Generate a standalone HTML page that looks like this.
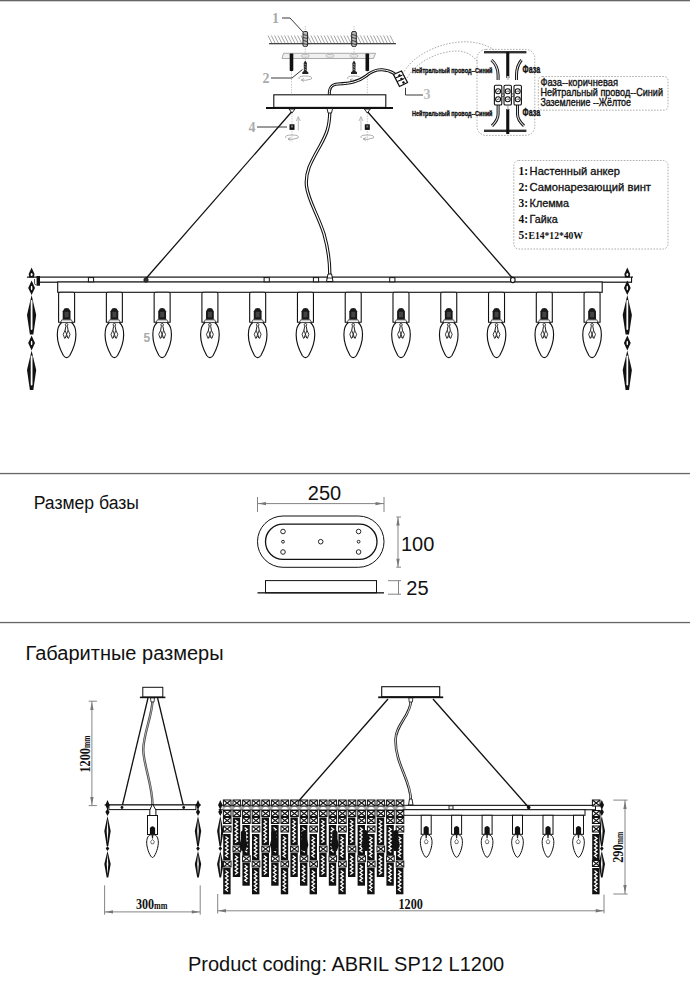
<!DOCTYPE html>
<html><head><meta charset="utf-8"><style>
html,body{margin:0;padding:0;background:#fff;width:690px;height:1000px;overflow:hidden}
svg{display:block}
text{font-family:"Liberation Sans", sans-serif}
.sf{font-family:"Liberation Serif", serif}
</style></head><body>
<svg width="690" height="1000" viewBox="0 0 690 1000">
<defs>
 <g id="bulb">
  <path d="M-8 1.5 Q-8 0 -6.5 0 L6.5 0 Q8 0 8 1.5 L8 30 L-8 30 Z" fill="#fff" stroke="#111" stroke-width="1.1"/>
  <path d="M-3.9 27.5 L-3.9 19 L-2.2 16.3 L0 15.8 L2.2 16.3 L3.9 19 L3.9 27.5 Z" fill="#1a1a1a"/>
  <path d="M-2 19.5 L2 19.5 L2 25 L-2 25 Z" fill="#444"/>
  <path d="M-4.8 27.5 L4.8 27.5 L6 30.3 L-6 30.3 Z" fill="#eee" stroke="#222" stroke-width="0.7"/>
  <path d="M-5 30.2 C-8.5 33 -9.3 38 -9.3 42.4 C-9.3 50 -5.5 59 -3.2 63.2 Q0 67.6 3.2 63.2 C5.5 59 9.3 50 9.3 42.4 C9.3 38 8.5 33 5 30.2" fill="none" stroke="#111" stroke-width="1.15"/>
  <circle cx="0" cy="32.5" r="1.3" fill="#fff" stroke="#222" stroke-width="0.9"/>
  <path d="M-0.8 34 L-1.5 38 M0.8 34 L1.5 38" stroke="#222" stroke-width="1"/>
  <path d="M-1.5 38 L-3.4 42 L-2 46 L0 44.3 L2 46 L3.4 42 L1.5 38 M-1.5 38 L1.5 46 M1.5 38 L-1.5 46" fill="none" stroke="#222" stroke-width="0.9"/>
 </g>
 <g id="crystal">
  <path d="M0 267.5 L-2.9 274 L-2.3 277.5 L2.3 277.5 L2.9 274 Z" fill="#111"/>
  <ellipse cx="0" cy="274.5" rx="1" ry="1.6" fill="#fff"/>
  <path d="M0 280.5 L-3.4 288 L0 295 L3.4 288 Z" fill="#111"/>
  <ellipse cx="0" cy="288" rx="0.8" ry="2.2" fill="#fff"/>
  <path d="M0 295 L-4.6 315 L-1.7 334.5 L1.7 334.5 L4.6 315 Z" fill="#111"/>
  <rect x="-0.9" y="300" width="1.8" height="30" rx="0.9" fill="#fff"/>
  <path d="M0 335.5 L-3.4 343 L0 350.5 L3.4 343 Z" fill="#111"/>
  <ellipse cx="0" cy="343" rx="0.8" ry="2.2" fill="#fff"/>
  <path d="M0 350.5 L-4.6 370 L-1.7 390 L1.7 390 L4.6 370 Z" fill="#111"/>
  <rect x="-0.9" y="355.5" width="1.8" height="30" rx="0.9" fill="#fff"/>
 </g>
 <g id="sbulb">
  <rect x="-5" y="0" width="10" height="19" fill="#fff" stroke="#111" stroke-width="1"/>
  <path d="M-2.6 19 L-2.6 12.5 Q0 9 2.6 12.5 L2.6 19 Z" fill="#111"/>
  <path d="M-1.8 19.3 C-5 20 -6 24 -5.8 28 C-5.4 34 -2 42 0 42 C2 42 5.4 34 5.8 28 C6 24 5 20 1.8 19.3 Z" fill="#fff" stroke="#111" stroke-width="1"/>
  <path d="M-0.8 19.5 L0.8 19.5 L0.6 23 L-0.6 23 Z" fill="#222"/>
  <path d="M-1.8 26 L0 24 L1.8 26 L1.1 28.3 L-1.1 28.3 Z" fill="none" stroke="#333" stroke-width="0.7"/>
 </g>
 <g id="xs">
  <rect x="0.5" y="0.5" width="7.6" height="6" fill="#fff" stroke="#111" stroke-width="1"/>
  <path d="M0.8 0.8 L7.8 6.2 M7.8 0.8 L0.8 6.2" stroke="#111" stroke-width="1.1"/>
 </g>
 <g id="scrys">
  <path d="M0 800 L-2.2 805 L0 810 L2.2 805 Z" fill="#111"/>
  <path d="M0 808.5 L-2.1 812 L0 816 L2.1 812 Z" fill="#111"/>
  <path d="M0 816 L-3.2 831 L-0.8 846 L0.8 846 L3.2 831 Z" fill="#111"/>
  <path d="M0 819 L-0.8 831 L0 843 L0.8 831 Z" fill="#fff"/>
  <path d="M0 846 L-1.8 848.5 L0 851 L1.8 848.5 Z" fill="#111"/>
  <path d="M0 851 L-3.2 864 L-0.8 877.5 L0.8 877.5 L3.2 864 Z" fill="#111"/>
  <path d="M0 854 L-0.8 864 L0 875 L0.8 864 Z" fill="#fff"/>
 </g>
 <g id="rot">
  <path d="M-6 3 Q-8 0 0 0 Q8 0 6 3 Q0 5 -4 4" fill="none" stroke="#999" stroke-width="0.8"/>
  <path d="M-4 4 L-1.5 2.5 M-4 4 L-1.5 5.5" stroke="#999" stroke-width="0.8"/>
 </g>
</defs>
<rect x="0" y="0" width="690" height="1.3" fill="#666"/>
<rect x="0" y="472.9" width="690" height="1.3" fill="#666"/>
<rect x="0" y="621.9" width="690" height="1.3" fill="#666"/>
<path d="M272.0 43.5 L268.0 35.5 M275.3 43.5 L271.3 35.5 M278.6 43.5 L274.6 35.5 M281.9 43.5 L277.9 35.5 M285.2 43.5 L281.2 35.5 M288.5 43.5 L284.5 35.5 M291.8 43.5 L287.8 35.5 M295.1 43.5 L291.1 35.5 M298.4 43.5 L294.4 35.5 M301.7 43.5 L297.7 35.5 M305.0 43.5 L301.0 35.5 M308.3 43.5 L304.3 35.5 M311.6 43.5 L307.6 35.5 M314.9 43.5 L310.9 35.5 M318.2 43.5 L314.2 35.5 M321.5 43.5 L317.5 35.5 M324.8 43.5 L320.8 35.5 M328.1 43.5 L324.1 35.5 M331.4 43.5 L327.4 35.5 M334.7 43.5 L330.7 35.5 M338.0 43.5 L334.0 35.5 M341.3 43.5 L337.3 35.5 M344.6 43.5 L340.6 35.5 M347.9 43.5 L343.9 35.5 M351.2 43.5 L347.2 35.5 M354.5 43.5 L350.5 35.5 M357.8 43.5 L353.8 35.5 M361.1 43.5 L357.1 35.5 M364.4 43.5 L360.4 35.5 M367.7 43.5 L363.7 35.5 M371.0 43.5 L367.0 35.5 M374.3 43.5 L370.3 35.5 M377.6 43.5 L373.6 35.5 M380.9 43.5 L376.9 35.5 M384.2 43.5 L380.2 35.5 M387.5 43.5 L383.5 35.5 M390.8 43.5 L386.8 35.5 M394.1 43.5 L390.1 35.5" stroke="#666" stroke-width="0.6" fill="none"/>
<rect x="269" y="43" width="127" height="1.3" fill="#444"/>
<line x1="305.3" y1="26" x2="305.3" y2="34" stroke="#999" stroke-width="0.6" stroke-dasharray="1.3 1.3"/>
<rect x="303.0" y="31.5" width="4.6" height="15" rx="1.4" fill="#bbb" stroke="#222" stroke-width="1"/>
<path d="M303.3 34.5 L307.3 35.5 M303.3 37.5 L307.3 38.5 M303.3 40.5 L307.3 41.5 M303.3 43.5 L307.3 44.5" stroke="#222" stroke-width="0.8"/>
<line x1="305.3" y1="46" x2="305.3" y2="60" stroke="#999" stroke-width="0.6" stroke-dasharray="1.3 1.3"/>
<line x1="354" y1="26" x2="354" y2="34" stroke="#999" stroke-width="0.6" stroke-dasharray="1.3 1.3"/>
<rect x="351.7" y="31.5" width="4.6" height="15" rx="1.4" fill="#bbb" stroke="#222" stroke-width="1"/>
<path d="M352 34.5 L356 35.5 M352 37.5 L356 38.5 M352 40.5 L356 41.5 M352 43.5 L356 44.5" stroke="#222" stroke-width="0.8"/>
<line x1="354" y1="46" x2="354" y2="60" stroke="#999" stroke-width="0.6" stroke-dasharray="1.3 1.3"/>
<path d="M283.5 53.3 L375.5 53.3 L373.5 58.5 L282 58.5 Z" fill="#f0f0f0" stroke="#888" stroke-width="0.7"/>
<rect x="301.5" y="54.6" width="7.6" height="2.6" rx="1.3" fill="none" stroke="#999" stroke-width="0.6"/>
<rect x="326.2" y="54.6" width="7.6" height="2.6" rx="1.3" fill="none" stroke="#999" stroke-width="0.6"/>
<rect x="350.2" y="54.6" width="7.6" height="2.6" rx="1.3" fill="none" stroke="#999" stroke-width="0.6"/>
<rect x="289.7" y="53.5" width="3.6" height="17.5" rx="0.8" fill="#111"/>
<line x1="291.5" y1="71" x2="291.5" y2="111" stroke="#999" stroke-width="0.6" stroke-dasharray="1.3 1.3"/>
<rect x="365.5" y="53.5" width="3.6" height="17.5" rx="0.8" fill="#111"/>
<line x1="367.3" y1="71" x2="367.3" y2="111" stroke="#999" stroke-width="0.6" stroke-dasharray="1.3 1.3"/>
<path d="M305.3 60.5 L306.90000000000003 63 L306.7 71 L308.3 72.3 L308.3 74 L302.3 74 L302.3 72.3 L303.90000000000003 71 L303.7 63 Z" fill="#222"/>
<path d="M304.3 64 L306.3 65 M304.3 66.5 L306.3 67.5 M304.3 69 L306.3 70" stroke="#ccc" stroke-width="0.6"/>
<use href="#rot" x="305.3" y="76"/>
<path d="M354 60.5 L355.6 63 L355.4 71 L357 72.3 L357 74 L351 74 L351 72.3 L352.6 71 L352.4 63 Z" fill="#222"/>
<path d="M353 64 L355 65 M353 66.5 L355 67.5 M353 69 L355 70" stroke="#ccc" stroke-width="0.6"/>
<use href="#rot" x="354" y="76"/>
<text x="272" y="22.5" font-size="14" font-weight="bold" fill="#aaa" class="sf">1</text>
<path d="M282 18 L290 18 L303 32" stroke="#222" stroke-width="0.9" fill="none"/>
<text x="262.5" y="82.5" font-size="14" font-weight="bold" fill="#aaa" class="sf">2</text>
<path d="M271 78 L292 78 L302.5 69.5" stroke="#222" stroke-width="0.9" fill="none"/>
<text x="248.5" y="131.5" font-size="14" font-weight="bold" fill="#aaa" class="sf">4</text>
<path d="M257 127 L287 127" stroke="#222" stroke-width="0.9" fill="none"/>
<text x="423.5" y="99" font-size="14" font-weight="bold" fill="#bbb" class="sf">3</text>
<path d="M405.5 87.8 L405.5 95 L423 95" stroke="#222" stroke-width="0.9" fill="none"/>
<text x="143.5" y="341.5" font-size="12" font-weight="bold" fill="#aaa">5</text>
<path d="M329.3 95 C329 88 331 84.5 338 84 C350 83.5 358 82 366 76 C372 71 377 69.5 382 69.8 C387 70 391 71.5 395 74" stroke="#111" stroke-width="3" fill="none"/>
<path d="M329.3 95 C329 88 331 84.5 338 84 C350 83.5 358 82 366 76 C372 71 377 69.5 382 69.8 C387 70 391 71.5 395 74" stroke="#fff" stroke-width="1" fill="none"/>
<path d="M393.5 74.5 L401.5 71 L407.5 82.5 L399.5 86.5 Z" fill="#fff" stroke="#111" stroke-width="1.3"/>
<path d="M395.5 78 L402.5 75 M397.3 81.5 L404.3 78.5" stroke="#111" stroke-width="1.1"/>
<path d="M398 75 L400 74 L401 76 L399 77 Z M400 78.5 L402 77.5 L403 79.5 L401 80.5 Z M402 82 L404 81 L405 83 L403 84 Z" fill="#111"/>
<rect x="273.8" y="94.8" width="112" height="12.6" fill="#fff" stroke="#111" stroke-width="1.1"/>
<rect x="266" y="107" width="127" height="2" fill="#111"/>
<path d="M289 109 L292 113 L295 109 Z" fill="#fff" stroke="#111" stroke-width="0.9"/>
<line x1="292" y1="113" x2="292" y2="142" stroke="#999" stroke-width="0.6" stroke-dasharray="1.3 1.3"/>
<rect x="289.5" y="124.3" width="5" height="5.6" fill="#111"/>
<rect x="291" y="125.5" width="2" height="2" fill="#777"/>
<path d="M298.3 130.5 L298.3 117.5 M296.3 121 L298.3 116.5 L300.3 121" stroke="#aaa" stroke-width="0.8" fill="none"/>
<use href="#rot" x="292" y="135"/>
<path d="M364.3 109 L367.3 113 L370.3 109 Z" fill="#fff" stroke="#111" stroke-width="0.9"/>
<line x1="367.3" y1="113" x2="367.3" y2="142" stroke="#999" stroke-width="0.6" stroke-dasharray="1.3 1.3"/>
<rect x="364.8" y="124.3" width="5" height="5.6" fill="#111"/>
<rect x="366.3" y="125.5" width="2" height="2" fill="#777"/>
<path d="M361.0 130.5 L361.0 117.5 M359.0 121 L361.0 116.5 L363.0 121" stroke="#aaa" stroke-width="0.8" fill="none"/>
<use href="#rot" x="367.3" y="135"/>
<line x1="291.5" y1="112" x2="146" y2="278.5" stroke="#111" stroke-width="1.3"/>
<line x1="367.8" y1="112" x2="512.8" y2="278.5" stroke="#111" stroke-width="1.3"/>
<path d="M329.8 112 C329.5 128 326 135 320 146 C311 162 305 172 306.5 186 C308 200 318 215 324 234 C328 248 329.8 262 329.8 274" stroke="#111" stroke-width="3.3" fill="none"/>
<path d="M329.8 112 C329.5 128 326 135 320 146 C311 162 305 172 306.5 186 C308 200 318 215 324 234 C328 248 329.8 262 329.8 274" stroke="#fff" stroke-width="1.2" fill="none"/>
<path d="M327 108.5 L332.6 108.5 L331.5 113 L328.1 113 Z" fill="#fff" stroke="#111" stroke-width="0.9"/>
<rect x="27" y="276.5" width="606" height="1.2" fill="#111"/>
<rect x="39" y="281.6" width="593" height="1.2" fill="#111"/>
<rect x="631" y="277" width="1.1" height="5.5" fill="#111"/>
<rect x="57.7" y="282" width="544.5" height="10.3" fill="#fff" stroke="#111" stroke-width="1.1"/>
<rect x="88.4" y="277.6" width="5.2" height="4.2" fill="#fff" stroke="#111" stroke-width="1"/>
<rect x="264.09999999999997" y="277.6" width="5.2" height="4.2" fill="#fff" stroke="#111" stroke-width="1"/>
<rect x="313.4" y="277.6" width="5.2" height="4.2" fill="#fff" stroke="#111" stroke-width="1"/>
<rect x="389.7" y="277.6" width="5.2" height="4.2" fill="#fff" stroke="#111" stroke-width="1"/>
<rect x="36.6" y="276" width="3.4" height="9.7" fill="#111"/>
<path d="M34.5 279 L34.5 283 Q34.5 285 36.6 285" fill="none" stroke="#111" stroke-width="0.7"/>
<circle cx="146" cy="280" r="2.2" fill="#333" stroke="#111" stroke-width="0.8"/>
<ellipse cx="512.8" cy="280" rx="2.3" ry="2.6" fill="#fff" stroke="#111" stroke-width="1.1"/>
<path d="M326.5 281.5 L328 274 L331.6 274 L333 281.5 Z" fill="#fff" stroke="#111" stroke-width="1"/>
<line x1="326.5" y1="278" x2="333" y2="278" stroke="#111" stroke-width="0.8"/>
<use href="#bulb" x="66.60" y="292.3"/>
<use href="#bulb" x="114.37" y="292.3"/>
<use href="#bulb" x="162.14" y="292.3"/>
<use href="#bulb" x="209.91" y="292.3"/>
<use href="#bulb" x="257.68" y="292.3"/>
<use href="#bulb" x="305.45" y="292.3"/>
<use href="#bulb" x="353.22" y="292.3"/>
<use href="#bulb" x="400.99" y="292.3"/>
<use href="#bulb" x="448.76" y="292.3"/>
<use href="#bulb" x="496.53" y="292.3"/>
<use href="#bulb" x="544.30" y="292.3"/>
<use href="#bulb" x="592.07" y="292.3"/>
<use href="#crystal" x="31.6" y="0"/>
<use href="#crystal" x="627.3" y="0"/>
<rect x="477" y="49.4" width="57.8" height="86" rx="9" fill="none" stroke="#999" stroke-width="0.8" stroke-dasharray="1.6 1.4"/>
<path d="M403 74 C412 54 445 40 470 42 C482 43 490 47 494 50" fill="none" stroke="#999" stroke-width="0.8" stroke-dasharray="1.6 1.4"/>
<path d="M407 78 C418 60 440 51 458 51 C468 52 474 56 478 63" fill="none" stroke="#999" stroke-width="0.8" stroke-dasharray="1.6 1.4"/>
<rect x="484" y="51" width="42.4" height="2.4" fill="#333"/>
<rect x="484" y="129.6" width="42.4" height="2.4" fill="#333"/>
<rect x="506.2" y="52" width="3.1" height="26" fill="#111"/>
<rect x="506.8" y="76" width="2" height="4" fill="#ccc"/>
<rect x="506.2" y="109" width="3.1" height="25" fill="#111"/>
<rect x="506.8" y="105.5" width="2" height="4" fill="#ccc"/>
<path d="M491.5 60 Q498.1 66 498.1 75 L498.1 80" stroke="#111" stroke-width="3" fill="none"/><path d="M491.5 60 Q498.1 66 498.1 75 L498.1 80" stroke="#ddd" stroke-width="1.1" fill="none"/>
<path d="M521.5 60 Q516.5 66 516.5 75 L516.5 80" stroke="#111" stroke-width="3" fill="none"/><path d="M521.5 60 Q516.5 66 516.5 75 L516.5 80" stroke="#ddd" stroke-width="1.1" fill="none"/>
<path d="M498.1 105 L498.1 114 Q498.1 120 492 125.8" stroke="#111" stroke-width="3" fill="none"/><path d="M498.1 105 L498.1 114 Q498.1 120 492 125.8" stroke="#ddd" stroke-width="1.1" fill="none"/>
<path d="M517.5 105 L517.5 114 Q517.5 120 524 125.8" stroke="#111" stroke-width="3" fill="none"/><path d="M517.5 105 L517.5 114 Q517.5 120 524 125.8" stroke="#ddd" stroke-width="1.1" fill="none"/>
<rect x="494.40000000000003" y="85.2" width="7.4" height="19.8" rx="1.3" fill="#fff" stroke="#111" stroke-width="1.1"/>
<circle cx="498.1" cy="91.3" r="2.5" fill="#fff" stroke="#111" stroke-width="1.1"/>
<path d="M496.8 92.1 Q498.1 89.8 499.40000000000003 91.5" stroke="#111" stroke-width="0.7" fill="none"/>
<circle cx="498.1" cy="99.3" r="2.5" fill="#fff" stroke="#111" stroke-width="1.1"/>
<path d="M496.8 100.1 Q498.1 97.8 499.40000000000003 99.5" stroke="#111" stroke-width="0.7" fill="none"/>
<rect x="504.0" y="85.2" width="7.4" height="19.8" rx="1.3" fill="#fff" stroke="#111" stroke-width="1.1"/>
<circle cx="507.7" cy="91.3" r="2.5" fill="#fff" stroke="#111" stroke-width="1.1"/>
<path d="M506.4 92.1 Q507.7 89.8 509.0 91.5" stroke="#111" stroke-width="0.7" fill="none"/>
<circle cx="507.7" cy="99.3" r="2.5" fill="#fff" stroke="#111" stroke-width="1.1"/>
<path d="M506.4 100.1 Q507.7 97.8 509.0 99.5" stroke="#111" stroke-width="0.7" fill="none"/>
<rect x="514.0" y="85.2" width="7.4" height="19.8" rx="1.3" fill="#fff" stroke="#111" stroke-width="1.1"/>
<circle cx="517.7" cy="91.3" r="2.5" fill="#fff" stroke="#111" stroke-width="1.1"/>
<path d="M516.4000000000001 92.1 Q517.7 89.8 519.0 91.5" stroke="#111" stroke-width="0.7" fill="none"/>
<circle cx="517.7" cy="99.3" r="2.5" fill="#fff" stroke="#111" stroke-width="1.1"/>
<path d="M516.4000000000001 100.1 Q517.7 97.8 519.0 99.5" stroke="#111" stroke-width="0.7" fill="none"/>
<circle cx="502.9" cy="95.1" r="1.3" fill="#fff" stroke="#111" stroke-width="0.8"/>
<circle cx="512.7" cy="95.1" r="1.3" fill="#fff" stroke="#111" stroke-width="0.8"/>
<text x="412" y="73.3" font-size="7.2" font-weight="bold" fill="#111" stroke="#111" stroke-width="0.35" textLength="80.5" lengthAdjust="spacingAndGlyphs">Нейтральный провод--Синий</text>
<text x="412" y="116" font-size="7.2" font-weight="bold" fill="#111" stroke="#111" stroke-width="0.35" textLength="80.5" lengthAdjust="spacingAndGlyphs">Нейтральный провод--Синий</text>
<text x="522.6" y="73.3" font-size="10" font-weight="bold" fill="#111" stroke="#111" stroke-width="0.35" textLength="17.5" lengthAdjust="spacingAndGlyphs">Фаза</text>
<text x="522.6" y="116" font-size="10" font-weight="bold" fill="#111" stroke="#111" stroke-width="0.35" textLength="17.5" lengthAdjust="spacingAndGlyphs">Фаза</text>
<rect x="538.3" y="76.5" width="129.7" height="33.7" rx="4" fill="none" stroke="#999" stroke-width="0.8" stroke-dasharray="1.6 1.4"/>
<text x="540.4" y="86.3" font-size="10.4" fill="#111" stroke="#111" stroke-width="0.35" textLength="77.6" lengthAdjust="spacingAndGlyphs">Фаза--коричневая</text>
<text x="540.4" y="95.8" font-size="10.4" fill="#111" stroke="#111" stroke-width="0.35" textLength="122.6" lengthAdjust="spacingAndGlyphs">Нейтральный провод--Синий</text>
<text x="540.4" y="105.9" font-size="10.4" fill="#111" stroke="#111" stroke-width="0.35" textLength="90.6" lengthAdjust="spacingAndGlyphs">Заземление --Жёлтое</text>
<rect x="513.8" y="160.5" width="154.2" height="88.5" rx="5" fill="none" stroke="#999" stroke-width="0.8" stroke-dasharray="1.6 1.4"/>
<text x="518.5" y="175.0" font-size="11.5" font-weight="bold" fill="#111" class="sf">1:</text>
<text x="529.6" y="175.0" font-size="10.8" fill="#111" stroke="#111" stroke-width="0.3" textLength="90.4" lengthAdjust="spacingAndGlyphs">Настенный анкер</text>
<text x="518.5" y="191.1" font-size="11.5" font-weight="bold" fill="#111" class="sf">2:</text>
<text x="529.6" y="191.1" font-size="10.8" fill="#111" stroke="#111" stroke-width="0.3" textLength="121.4" lengthAdjust="spacingAndGlyphs">Самонарезающий винт</text>
<text x="518.5" y="207.2" font-size="11.5" font-weight="bold" fill="#111" class="sf">3:</text>
<text x="529.6" y="207.2" font-size="10.8" fill="#111" stroke="#111" stroke-width="0.3">Клемма</text>
<text x="518.5" y="223.3" font-size="11.5" font-weight="bold" fill="#111" class="sf">4:</text>
<text x="529.6" y="223.3" font-size="10.8" fill="#111" stroke="#111" stroke-width="0.3">Гайка</text>
<text x="518.5" y="239.4" font-size="11.5" font-weight="bold" fill="#111" class="sf">5:</text>
<text x="528.5" y="239.4" font-size="10.5" font-weight="bold" fill="#111" class="sf" textLength="54.5" lengthAdjust="spacingAndGlyphs">E14*12*40W</text>
<text x="33.7" y="509.3" font-size="17.6" fill="#111">Размер базы</text>
<text x="324.5" y="499.7" font-size="20" fill="#111" text-anchor="middle">250</text>
<path d="M257.5 503.6 L384 503.6 M257.5 497 L257.5 512 M384 497 L384 512" stroke="#777" stroke-width="0.9" fill="none"/>
<path d="M258 503.6 L266 501.9 L266 505.3 Z M383.5 503.6 L375.5 501.9 L375.5 505.3 Z" fill="#777"/>
<rect x="257.5" y="516" width="126.5" height="51.3" rx="25.6" fill="none" stroke="#111" stroke-width="1"/>
<rect x="265.5" y="524.2" width="111.5" height="35.1" rx="17.5" fill="none" stroke="#111" stroke-width="1.3"/>
<circle cx="283" cy="531.5" r="2.3" fill="none" stroke="#111" stroke-width="0.9"/>
<circle cx="283" cy="541.7" r="1.4" fill="none" stroke="#111" stroke-width="0.9"/>
<circle cx="283" cy="552" r="2.3" fill="none" stroke="#111" stroke-width="0.9"/>
<circle cx="358.6" cy="531.5" r="2.3" fill="none" stroke="#111" stroke-width="0.9"/>
<circle cx="358.6" cy="541.7" r="1.4" fill="none" stroke="#111" stroke-width="0.9"/>
<circle cx="358.6" cy="552" r="2.3" fill="none" stroke="#111" stroke-width="0.9"/>
<circle cx="320.7" cy="541.7" r="2.3" fill="none" stroke="#111" stroke-width="0.9"/>
<path d="M398 517 L398 567.2 M396.3 517 L401 517 M396.3 567.2 L401 567.2" stroke="#777" stroke-width="0.9" fill="none"/>
<path d="M398 517.5 L396.3 525.5 L399.7 525.5 Z M398 566.7 L396.3 558.7 L399.7 558.7 Z" fill="#777"/>
<text x="401" y="551" font-size="20" fill="#111">100</text>
<rect x="265.5" y="580.6" width="111" height="12.2" fill="#fff" stroke="#111" stroke-width="1"/>
<rect x="257.5" y="592.2" width="126.5" height="1.3" fill="#111"/>
<path d="M398.5 580.7 L398.5 594.2 M388 580.7 L401 580.7 M388 594.2 L401 594.2" stroke="#777" stroke-width="0.9" fill="none"/>
<text x="406.3" y="594.7" font-size="20" fill="#111">25</text>
<text x="25.5" y="660" font-size="20" fill="#111">Габаритные размеры</text>
<text x="188" y="971.1" font-size="20" fill="#111">Product coding: ABRIL SP12 L1200</text>
<rect x="142.8" y="687.3" width="20" height="9.8" fill="#fff" stroke="#111" stroke-width="1"/>
<rect x="139.9" y="696.6" width="25.5" height="1.6" fill="#111"/>
<line x1="148" y1="698" x2="122" y2="807" stroke="#111" stroke-width="1.3"/>
<line x1="157.6" y1="698" x2="183.7" y2="807" stroke="#111" stroke-width="1.3"/>
<path d="M152.5 700 C152.5 715 143 735 143.3 750 C143.5 765 152.5 785 152.5 805" stroke="#444" stroke-width="2.4" fill="none"/><path d="M152.5 700 C152.5 715 143 735 143.3 750 C143.5 765 152.5 785 152.5 805" stroke="#ccc" stroke-width="0.8" fill="none"/>
<path d="M150.5 698 L154.5 698 L154 702 L151 702 Z" fill="#fff" stroke="#111" stroke-width="0.8"/>
<rect x="104.6" y="804.4" width="96.4" height="1.1" fill="#111"/>
<rect x="108.9" y="805" width="87" height="4.6" fill="#fff" stroke="#111" stroke-width="1"/>
<circle cx="122" cy="807.5" r="1.4" fill="#111"/><circle cx="183.7" cy="807.5" r="1.4" fill="#111"/>
<path d="M149.8 815.5 L149.8 810 L152.5 804 L155.9 810 L155.9 815.5 Z" fill="#fff" stroke="#111" stroke-width="1"/>
<use href="#sbulb" x="152.5" y="815.5"/>
<use href="#scrys" x="107.5" y="0"/>
<use href="#scrys" x="198" y="0"/>
<path d="M91.9 701.2 L91.9 805.6 M88.7 701.2 L96.9 701.2 M88.7 805.6 L96.9 805.6" stroke="#777" stroke-width="0.9" fill="none"/>
<path d="M91.9 702 L90.2 710 L93.6 710 Z M91.9 805 L90.2 797 L93.6 797 Z" fill="#777"/>
<text transform="translate(90,772.5) rotate(-90)" font-size="13.6" font-weight="bold" fill="#111" class="sf"><tspan textLength="24.5" lengthAdjust="spacingAndGlyphs">1200</tspan><tspan font-size="10" textLength="12.5" lengthAdjust="spacingAndGlyphs">mm</tspan></text>
<path d="M104.6 885.4 L104.6 914.7 M200.2 885.4 L200.2 914.7 M104.6 911.9 L200.2 911.9" stroke="#777" stroke-width="0.9" fill="none"/>
<path d="M105 911.9 L113 910.2 L113 913.6 Z M199.8 911.9 L191.8 910.2 L191.8 913.6 Z" fill="#777"/>
<text x="135.9" y="909" font-size="13.6" font-weight="bold" fill="#111" class="sf"><tspan textLength="18.1" lengthAdjust="spacingAndGlyphs">300</tspan><tspan font-size="10" textLength="13.4" lengthAdjust="spacingAndGlyphs">mm</tspan></text>
<rect x="381.7" y="686.7" width="58" height="10.1" fill="#fff" stroke="#111" stroke-width="1.1"/>
<rect x="378.2" y="696.4" width="65" height="1.8" fill="#111"/>
<line x1="388" y1="699" x2="295.2" y2="805" stroke="#111" stroke-width="1.35"/>
<line x1="433" y1="699" x2="528.7" y2="807.5" stroke="#111" stroke-width="1.35"/>
<circle cx="528.7" cy="807.5" r="1.8" fill="#111"/>
<path d="M410.8 701 C410.8 715 395.5 725 395.5 740 C395.5 765 410.8 780 410.8 800" stroke="#222" stroke-width="2.6" fill="none"/><path d="M410.8 701 C410.8 715 395.5 725 395.5 740 C395.5 765 410.8 780 410.8 800" stroke="#eee" stroke-width="0.9" fill="none"/>
<path d="M408.8 698 L412.8 698 L412.4 702 L409.2 702 Z" fill="#fff" stroke="#111" stroke-width="0.8"/>
<path d="M408.5 805 L409.5 799 L412 799 L413 805 Z" fill="#fff" stroke="#111" stroke-width="0.9"/>
<rect x="218.7" y="804.8" width="377" height="1.1" fill="#111"/>
<rect x="218.7" y="809.2" width="377" height="1.1" fill="#111"/>
<rect x="222.5" y="805.6" width="183" height="3.8" fill="#aaa"/>
<path d="M223.9 809.2 Q227.2 804.5 230.5 809.2 Z" fill="#fff"/>
<path d="M233.5 809.2 Q236.8 804.5 240.1 809.2 Z" fill="#fff"/>
<path d="M243.1 809.2 Q246.4 804.5 249.7 809.2 Z" fill="#fff"/>
<path d="M252.7 809.2 Q256.0 804.5 259.3 809.2 Z" fill="#fff"/>
<path d="M262.3 809.2 Q265.6 804.5 268.9 809.2 Z" fill="#fff"/>
<path d="M271.9 809.2 Q275.2 804.5 278.5 809.2 Z" fill="#fff"/>
<path d="M281.5 809.2 Q284.8 804.5 288.1 809.2 Z" fill="#fff"/>
<path d="M291.1 809.2 Q294.4 804.5 297.7 809.2 Z" fill="#fff"/>
<path d="M300.7 809.2 Q304.0 804.5 307.3 809.2 Z" fill="#fff"/>
<path d="M310.3 809.2 Q313.6 804.5 316.9 809.2 Z" fill="#fff"/>
<path d="M319.9 809.2 Q323.2 804.5 326.5 809.2 Z" fill="#fff"/>
<path d="M329.5 809.2 Q332.8 804.5 336.1 809.2 Z" fill="#fff"/>
<path d="M339.1 809.2 Q342.4 804.5 345.7 809.2 Z" fill="#fff"/>
<path d="M348.7 809.2 Q352.0 804.5 355.3 809.2 Z" fill="#fff"/>
<path d="M358.3 809.2 Q361.6 804.5 364.9 809.2 Z" fill="#fff"/>
<path d="M367.9 809.2 Q371.2 804.5 374.5 809.2 Z" fill="#fff"/>
<path d="M377.5 809.2 Q380.8 804.5 384.1 809.2 Z" fill="#fff"/>
<path d="M387.1 809.2 Q390.4 804.5 393.7 809.2 Z" fill="#fff"/>
<path d="M396.7 809.2 Q400.0 804.5 403.3 809.2 Z" fill="#fff"/>
<rect x="595" y="805" width="1" height="5" fill="#111"/>
<rect x="403" y="809.7" width="182" height="5.6" fill="#fff" stroke="#111" stroke-width="1"/>
<rect x="449" y="805.8" width="4" height="3.4" fill="#fff" stroke="#111" stroke-width="0.9"/>
<use href="#sbulb" x="426.2" y="815.3"/>
<use href="#sbulb" x="456.6" y="815.3"/>
<use href="#sbulb" x="487.1" y="815.3"/>
<use href="#sbulb" x="517.5" y="815.3"/>
<use href="#sbulb" x="548.0" y="815.3"/>
<use href="#sbulb" x="578.5" y="815.3"/>
<use href="#xs" x="222.9" y="799.5"/>
<use href="#xs" x="222.9" y="810"/>
<use href="#xs" x="222.9" y="817"/>
<use href="#xs" x="222.9" y="825.5"/>
<rect x="223.2" y="834" width="7.4" height="26.0" fill="#111"/>
<path d="M225.5 836.5 L228.1 838.4 L225.5 840.3 L228.1 842.2 L225.5 844.1 L228.1 846.0 L225.5 847.9 L228.1 849.8 L225.5 851.7 L228.1 853.6 L225.5 855.5 L228.1 857.4" stroke="#fff" stroke-width="1.25" fill="none"/>
<use href="#xs" x="222.9" y="860.5"/>
<rect x="223.2" y="868" width="7.4" height="26.3" fill="#111"/>
<path d="M225.5 870.5 L228.1 872.4 L225.5 874.3 L228.1 876.2 L225.5 878.1 L228.1 880.0 L225.5 881.9 L228.1 883.8 L225.5 885.7 L228.1 887.6 L225.5 889.5 L228.1 891.4" stroke="#fff" stroke-width="1.25" fill="none"/>
<use href="#xs" x="232.5" y="799.5"/>
<use href="#xs" x="232.5" y="810"/>
<rect x="232.8" y="817.5" width="7.4" height="27.5" fill="#111"/>
<path d="M235.1 820.0 L237.7 821.9 L235.1 823.8 L237.7 825.7 L235.1 827.6 L237.7 829.5 L235.1 831.4 L237.7 833.3 L235.1 835.2 L237.7 837.1 L235.1 839.0 L237.7 840.9 L235.1 842.8" stroke="#fff" stroke-width="1.25" fill="none"/>
<use href="#xs" x="232.5" y="845.5"/>
<rect x="232.8" y="853" width="7.4" height="24.0" fill="#111"/>
<path d="M235.1 855.5 L237.7 857.4 L235.1 859.3 L237.7 861.2 L235.1 863.1 L237.7 865.0 L235.1 866.9 L237.7 868.8 L235.1 870.7 L237.7 872.6 L235.1 874.5" stroke="#fff" stroke-width="1.25" fill="none"/>
<use href="#xs" x="242.1" y="799.5"/>
<use href="#xs" x="242.1" y="810"/>
<use href="#xs" x="242.1" y="817"/>
<rect x="242.4" y="825" width="7.4" height="30.0" fill="#111"/>
<path d="M244.7 827.5 L247.3 829.4 L244.7 831.3 L247.3 833.2 L244.7 835.1 L247.3 837.0 L244.7 838.9 L247.3 840.8 L244.7 842.7 L247.3 844.6 L244.7 846.5 L247.3 848.4 L244.7 850.3 L247.3 852.2" stroke="#fff" stroke-width="1.25" fill="none"/>
<use href="#xs" x="242.1" y="855.2"/>
<rect x="242.4" y="862.5" width="7.4" height="23.2" fill="#111"/>
<path d="M244.7 865.0 L247.3 866.9 L244.7 868.8 L247.3 870.7 L244.7 872.6 L247.3 874.5 L244.7 876.4 L247.3 878.3 L244.7 880.2 L247.3 882.1" stroke="#fff" stroke-width="1.25" fill="none"/>
<use href="#xs" x="251.7" y="799.5"/>
<use href="#xs" x="251.7" y="810"/>
<use href="#xs" x="251.7" y="817"/>
<use href="#xs" x="251.7" y="825.5"/>
<rect x="252.0" y="834" width="7.4" height="26.0" fill="#111"/>
<path d="M254.3 836.5 L256.9 838.4 L254.3 840.3 L256.9 842.2 L254.3 844.1 L256.9 846.0 L254.3 847.9 L256.9 849.8 L254.3 851.7 L256.9 853.6 L254.3 855.5 L256.9 857.4" stroke="#fff" stroke-width="1.25" fill="none"/>
<use href="#xs" x="251.7" y="860.5"/>
<rect x="252.0" y="868" width="7.4" height="26.3" fill="#111"/>
<path d="M254.3 870.5 L256.9 872.4 L254.3 874.3 L256.9 876.2 L254.3 878.1 L256.9 880.0 L254.3 881.9 L256.9 883.8 L254.3 885.7 L256.9 887.6 L254.3 889.5 L256.9 891.4" stroke="#fff" stroke-width="1.25" fill="none"/>
<use href="#xs" x="261.3" y="799.5"/>
<use href="#xs" x="261.3" y="810"/>
<rect x="261.6" y="817.5" width="7.4" height="27.5" fill="#111"/>
<path d="M263.9 820.0 L266.5 821.9 L263.9 823.8 L266.5 825.7 L263.9 827.6 L266.5 829.5 L263.9 831.4 L266.5 833.3 L263.9 835.2 L266.5 837.1 L263.9 839.0 L266.5 840.9 L263.9 842.8" stroke="#fff" stroke-width="1.25" fill="none"/>
<use href="#xs" x="261.3" y="845.5"/>
<rect x="261.6" y="853" width="7.4" height="24.0" fill="#111"/>
<path d="M263.9 855.5 L266.5 857.4 L263.9 859.3 L266.5 861.2 L263.9 863.1 L266.5 865.0 L263.9 866.9 L266.5 868.8 L263.9 870.7 L266.5 872.6 L263.9 874.5" stroke="#fff" stroke-width="1.25" fill="none"/>
<use href="#xs" x="270.9" y="799.5"/>
<use href="#xs" x="270.9" y="810"/>
<use href="#xs" x="270.9" y="817"/>
<rect x="271.2" y="825" width="7.4" height="30.0" fill="#111"/>
<path d="M273.5 827.5 L276.1 829.4 L273.5 831.3 L276.1 833.2 L273.5 835.1 L276.1 837.0 L273.5 838.9 L276.1 840.8 L273.5 842.7 L276.1 844.6 L273.5 846.5 L276.1 848.4 L273.5 850.3 L276.1 852.2" stroke="#fff" stroke-width="1.25" fill="none"/>
<use href="#xs" x="270.9" y="855.2"/>
<rect x="271.2" y="862.5" width="7.4" height="23.2" fill="#111"/>
<path d="M273.5 865.0 L276.1 866.9 L273.5 868.8 L276.1 870.7 L273.5 872.6 L276.1 874.5 L273.5 876.4 L276.1 878.3 L273.5 880.2 L276.1 882.1" stroke="#fff" stroke-width="1.25" fill="none"/>
<use href="#xs" x="280.5" y="799.5"/>
<use href="#xs" x="280.5" y="810"/>
<use href="#xs" x="280.5" y="817"/>
<use href="#xs" x="280.5" y="825.5"/>
<rect x="280.8" y="834" width="7.4" height="26.0" fill="#111"/>
<path d="M283.1 836.5 L285.7 838.4 L283.1 840.3 L285.7 842.2 L283.1 844.1 L285.7 846.0 L283.1 847.9 L285.7 849.8 L283.1 851.7 L285.7 853.6 L283.1 855.5 L285.7 857.4" stroke="#fff" stroke-width="1.25" fill="none"/>
<use href="#xs" x="280.5" y="860.5"/>
<rect x="280.8" y="868" width="7.4" height="26.3" fill="#111"/>
<path d="M283.1 870.5 L285.7 872.4 L283.1 874.3 L285.7 876.2 L283.1 878.1 L285.7 880.0 L283.1 881.9 L285.7 883.8 L283.1 885.7 L285.7 887.6 L283.1 889.5 L285.7 891.4" stroke="#fff" stroke-width="1.25" fill="none"/>
<use href="#xs" x="290.1" y="799.5"/>
<use href="#xs" x="290.1" y="810"/>
<rect x="290.4" y="817.5" width="7.4" height="27.5" fill="#111"/>
<path d="M292.7 820.0 L295.3 821.9 L292.7 823.8 L295.3 825.7 L292.7 827.6 L295.3 829.5 L292.7 831.4 L295.3 833.3 L292.7 835.2 L295.3 837.1 L292.7 839.0 L295.3 840.9 L292.7 842.8" stroke="#fff" stroke-width="1.25" fill="none"/>
<use href="#xs" x="290.1" y="845.5"/>
<rect x="290.4" y="853" width="7.4" height="24.0" fill="#111"/>
<path d="M292.7 855.5 L295.3 857.4 L292.7 859.3 L295.3 861.2 L292.7 863.1 L295.3 865.0 L292.7 866.9 L295.3 868.8 L292.7 870.7 L295.3 872.6 L292.7 874.5" stroke="#fff" stroke-width="1.25" fill="none"/>
<use href="#xs" x="299.7" y="799.5"/>
<use href="#xs" x="299.7" y="810"/>
<use href="#xs" x="299.7" y="817"/>
<rect x="300.0" y="825" width="7.4" height="30.0" fill="#111"/>
<path d="M302.3 827.5 L304.9 829.4 L302.3 831.3 L304.9 833.2 L302.3 835.1 L304.9 837.0 L302.3 838.9 L304.9 840.8 L302.3 842.7 L304.9 844.6 L302.3 846.5 L304.9 848.4 L302.3 850.3 L304.9 852.2" stroke="#fff" stroke-width="1.25" fill="none"/>
<use href="#xs" x="299.7" y="855.2"/>
<rect x="300.0" y="862.5" width="7.4" height="23.2" fill="#111"/>
<path d="M302.3 865.0 L304.9 866.9 L302.3 868.8 L304.9 870.7 L302.3 872.6 L304.9 874.5 L302.3 876.4 L304.9 878.3 L302.3 880.2 L304.9 882.1" stroke="#fff" stroke-width="1.25" fill="none"/>
<use href="#xs" x="309.3" y="799.5"/>
<use href="#xs" x="309.3" y="810"/>
<use href="#xs" x="309.3" y="817"/>
<use href="#xs" x="309.3" y="825.5"/>
<rect x="309.6" y="834" width="7.4" height="26.0" fill="#111"/>
<path d="M311.9 836.5 L314.5 838.4 L311.9 840.3 L314.5 842.2 L311.9 844.1 L314.5 846.0 L311.9 847.9 L314.5 849.8 L311.9 851.7 L314.5 853.6 L311.9 855.5 L314.5 857.4" stroke="#fff" stroke-width="1.25" fill="none"/>
<use href="#xs" x="309.3" y="860.5"/>
<rect x="309.6" y="868" width="7.4" height="26.3" fill="#111"/>
<path d="M311.9 870.5 L314.5 872.4 L311.9 874.3 L314.5 876.2 L311.9 878.1 L314.5 880.0 L311.9 881.9 L314.5 883.8 L311.9 885.7 L314.5 887.6 L311.9 889.5 L314.5 891.4" stroke="#fff" stroke-width="1.25" fill="none"/>
<use href="#xs" x="318.9" y="799.5"/>
<use href="#xs" x="318.9" y="810"/>
<rect x="319.2" y="817.5" width="7.4" height="27.5" fill="#111"/>
<path d="M321.5 820.0 L324.1 821.9 L321.5 823.8 L324.1 825.7 L321.5 827.6 L324.1 829.5 L321.5 831.4 L324.1 833.3 L321.5 835.2 L324.1 837.1 L321.5 839.0 L324.1 840.9 L321.5 842.8" stroke="#fff" stroke-width="1.25" fill="none"/>
<use href="#xs" x="318.9" y="845.5"/>
<rect x="319.2" y="853" width="7.4" height="24.0" fill="#111"/>
<path d="M321.5 855.5 L324.1 857.4 L321.5 859.3 L324.1 861.2 L321.5 863.1 L324.1 865.0 L321.5 866.9 L324.1 868.8 L321.5 870.7 L324.1 872.6 L321.5 874.5" stroke="#fff" stroke-width="1.25" fill="none"/>
<use href="#xs" x="328.5" y="799.5"/>
<use href="#xs" x="328.5" y="810"/>
<use href="#xs" x="328.5" y="817"/>
<rect x="328.8" y="825" width="7.4" height="30.0" fill="#111"/>
<path d="M331.1 827.5 L333.7 829.4 L331.1 831.3 L333.7 833.2 L331.1 835.1 L333.7 837.0 L331.1 838.9 L333.7 840.8 L331.1 842.7 L333.7 844.6 L331.1 846.5 L333.7 848.4 L331.1 850.3 L333.7 852.2" stroke="#fff" stroke-width="1.25" fill="none"/>
<use href="#xs" x="328.5" y="855.2"/>
<rect x="328.8" y="862.5" width="7.4" height="23.2" fill="#111"/>
<path d="M331.1 865.0 L333.7 866.9 L331.1 868.8 L333.7 870.7 L331.1 872.6 L333.7 874.5 L331.1 876.4 L333.7 878.3 L331.1 880.2 L333.7 882.1" stroke="#fff" stroke-width="1.25" fill="none"/>
<use href="#xs" x="338.1" y="799.5"/>
<use href="#xs" x="338.1" y="810"/>
<use href="#xs" x="338.1" y="817"/>
<use href="#xs" x="338.1" y="825.5"/>
<rect x="338.4" y="834" width="7.4" height="26.0" fill="#111"/>
<path d="M340.7 836.5 L343.3 838.4 L340.7 840.3 L343.3 842.2 L340.7 844.1 L343.3 846.0 L340.7 847.9 L343.3 849.8 L340.7 851.7 L343.3 853.6 L340.7 855.5 L343.3 857.4" stroke="#fff" stroke-width="1.25" fill="none"/>
<use href="#xs" x="338.1" y="860.5"/>
<rect x="338.4" y="868" width="7.4" height="26.3" fill="#111"/>
<path d="M340.7 870.5 L343.3 872.4 L340.7 874.3 L343.3 876.2 L340.7 878.1 L343.3 880.0 L340.7 881.9 L343.3 883.8 L340.7 885.7 L343.3 887.6 L340.7 889.5 L343.3 891.4" stroke="#fff" stroke-width="1.25" fill="none"/>
<use href="#xs" x="347.7" y="799.5"/>
<use href="#xs" x="347.7" y="810"/>
<rect x="348.0" y="817.5" width="7.4" height="27.5" fill="#111"/>
<path d="M350.3 820.0 L352.9 821.9 L350.3 823.8 L352.9 825.7 L350.3 827.6 L352.9 829.5 L350.3 831.4 L352.9 833.3 L350.3 835.2 L352.9 837.1 L350.3 839.0 L352.9 840.9 L350.3 842.8" stroke="#fff" stroke-width="1.25" fill="none"/>
<use href="#xs" x="347.7" y="845.5"/>
<rect x="348.0" y="853" width="7.4" height="24.0" fill="#111"/>
<path d="M350.3 855.5 L352.9 857.4 L350.3 859.3 L352.9 861.2 L350.3 863.1 L352.9 865.0 L350.3 866.9 L352.9 868.8 L350.3 870.7 L352.9 872.6 L350.3 874.5" stroke="#fff" stroke-width="1.25" fill="none"/>
<use href="#xs" x="357.3" y="799.5"/>
<use href="#xs" x="357.3" y="810"/>
<use href="#xs" x="357.3" y="817"/>
<rect x="357.6" y="825" width="7.4" height="30.0" fill="#111"/>
<path d="M359.9 827.5 L362.5 829.4 L359.9 831.3 L362.5 833.2 L359.9 835.1 L362.5 837.0 L359.9 838.9 L362.5 840.8 L359.9 842.7 L362.5 844.6 L359.9 846.5 L362.5 848.4 L359.9 850.3 L362.5 852.2" stroke="#fff" stroke-width="1.25" fill="none"/>
<use href="#xs" x="357.3" y="855.2"/>
<rect x="357.6" y="862.5" width="7.4" height="23.2" fill="#111"/>
<path d="M359.9 865.0 L362.5 866.9 L359.9 868.8 L362.5 870.7 L359.9 872.6 L362.5 874.5 L359.9 876.4 L362.5 878.3 L359.9 880.2 L362.5 882.1" stroke="#fff" stroke-width="1.25" fill="none"/>
<use href="#xs" x="366.9" y="799.5"/>
<use href="#xs" x="366.9" y="810"/>
<use href="#xs" x="366.9" y="817"/>
<use href="#xs" x="366.9" y="825.5"/>
<rect x="367.2" y="834" width="7.4" height="26.0" fill="#111"/>
<path d="M369.5 836.5 L372.1 838.4 L369.5 840.3 L372.1 842.2 L369.5 844.1 L372.1 846.0 L369.5 847.9 L372.1 849.8 L369.5 851.7 L372.1 853.6 L369.5 855.5 L372.1 857.4" stroke="#fff" stroke-width="1.25" fill="none"/>
<use href="#xs" x="366.9" y="860.5"/>
<rect x="367.2" y="868" width="7.4" height="26.3" fill="#111"/>
<path d="M369.5 870.5 L372.1 872.4 L369.5 874.3 L372.1 876.2 L369.5 878.1 L372.1 880.0 L369.5 881.9 L372.1 883.8 L369.5 885.7 L372.1 887.6 L369.5 889.5 L372.1 891.4" stroke="#fff" stroke-width="1.25" fill="none"/>
<use href="#xs" x="376.5" y="799.5"/>
<use href="#xs" x="376.5" y="810"/>
<rect x="376.8" y="817.5" width="7.4" height="27.5" fill="#111"/>
<path d="M379.1 820.0 L381.7 821.9 L379.1 823.8 L381.7 825.7 L379.1 827.6 L381.7 829.5 L379.1 831.4 L381.7 833.3 L379.1 835.2 L381.7 837.1 L379.1 839.0 L381.7 840.9 L379.1 842.8" stroke="#fff" stroke-width="1.25" fill="none"/>
<use href="#xs" x="376.5" y="845.5"/>
<rect x="376.8" y="853" width="7.4" height="24.0" fill="#111"/>
<path d="M379.1 855.5 L381.7 857.4 L379.1 859.3 L381.7 861.2 L379.1 863.1 L381.7 865.0 L379.1 866.9 L381.7 868.8 L379.1 870.7 L381.7 872.6 L379.1 874.5" stroke="#fff" stroke-width="1.25" fill="none"/>
<use href="#xs" x="386.1" y="799.5"/>
<use href="#xs" x="386.1" y="810"/>
<use href="#xs" x="386.1" y="817"/>
<rect x="386.4" y="825" width="7.4" height="30.0" fill="#111"/>
<path d="M388.7 827.5 L391.3 829.4 L388.7 831.3 L391.3 833.2 L388.7 835.1 L391.3 837.0 L388.7 838.9 L391.3 840.8 L388.7 842.7 L391.3 844.6 L388.7 846.5 L391.3 848.4 L388.7 850.3 L391.3 852.2" stroke="#fff" stroke-width="1.25" fill="none"/>
<use href="#xs" x="386.1" y="855.2"/>
<rect x="386.4" y="862.5" width="7.4" height="23.2" fill="#111"/>
<path d="M388.7 865.0 L391.3 866.9 L388.7 868.8 L391.3 870.7 L388.7 872.6 L391.3 874.5 L388.7 876.4 L391.3 878.3 L388.7 880.2 L391.3 882.1" stroke="#fff" stroke-width="1.25" fill="none"/>
<use href="#xs" x="395.7" y="799.5"/>
<use href="#xs" x="395.7" y="810"/>
<use href="#xs" x="395.7" y="817"/>
<use href="#xs" x="395.7" y="825.5"/>
<rect x="396.0" y="834" width="7.4" height="26.0" fill="#111"/>
<path d="M398.3 836.5 L400.9 838.4 L398.3 840.3 L400.9 842.2 L398.3 844.1 L400.9 846.0 L398.3 847.9 L400.9 849.8 L398.3 851.7 L400.9 853.6 L398.3 855.5 L400.9 857.4" stroke="#fff" stroke-width="1.25" fill="none"/>
<use href="#xs" x="395.7" y="860.5"/>
<rect x="396.0" y="868" width="7.4" height="26.3" fill="#111"/>
<path d="M398.3 870.5 L400.9 872.4 L398.3 874.3 L400.9 876.2 L398.3 878.1 L400.9 880.0 L398.3 881.9 L400.9 883.8 L398.3 885.7 L400.9 887.6 L398.3 889.5 L400.9 891.4" stroke="#fff" stroke-width="1.25" fill="none"/>
<path d="M393.1 839 L393.1 832 Q395.8 828 398.4 832 L398.4 839 L399.8 845 L397.8 851 L393.8 851 L391.8 845 Z" fill="#111"/>
<path d="M362.7 839 L362.7 832 Q365.3 828 367.9 832 L367.9 839 L369.3 845 L367.3 851 L363.3 851 L361.3 845 Z" fill="#111"/>
<path d="M332.2 839 L332.2 832 Q334.9 828 337.5 832 L337.5 839 L338.9 845 L336.9 851 L332.9 851 L330.9 845 Z" fill="#111"/>
<path d="M301.8 839 L301.8 832 Q304.4 828 307.0 832 L307.0 839 L308.4 845 L306.4 851 L302.4 851 L300.4 845 Z" fill="#111"/>
<path d="M271.3 839 L271.3 832 Q273.9 828 276.6 832 L276.6 839 L277.9 845 L275.9 851 L271.9 851 L269.9 845 Z" fill="#111"/>
<path d="M240.9 839 L240.9 832 Q243.5 828 246.1 832 L246.1 839 L247.5 845 L245.5 851 L241.5 851 L239.5 845 Z" fill="#111"/>
<use href="#scrys" x="220.3" y="0"/>
<use href="#xs" x="591.9" y="799.5"/>
<use href="#xs" x="591.9" y="810"/>
<use href="#xs" x="591.9" y="817"/>
<use href="#xs" x="591.9" y="825.5"/>
<use href="#xs" x="591.9" y="860"/>
<rect x="592.1999999999999" y="834" width="7.4" height="26.0" fill="#111"/>
<path d="M594.5 836.5 L597.1 838.4 L594.5 840.3 L597.1 842.2 L594.5 844.1 L597.1 846.0 L594.5 847.9 L597.1 849.8 L594.5 851.7 L597.1 853.6 L594.5 855.5 L597.1 857.4" stroke="#fff" stroke-width="1.25" fill="none"/>
<rect x="592.1999999999999" y="868" width="7.4" height="26.3" fill="#111"/>
<path d="M594.5 870.5 L597.1 872.4 L594.5 874.3 L597.1 876.2 L594.5 878.1 L597.1 880.0 L594.5 881.9 L597.1 883.8 L594.5 885.7 L597.1 887.6 L594.5 889.5 L597.1 891.4" stroke="#fff" stroke-width="1.25" fill="none"/>
<use href="#scrys" x="601.8" y="0"/>
<path d="M625 800.1 L625 894 M613.3 800.1 L627.6 800.1 M613.3 894 L627.6 894" stroke="#777" stroke-width="0.9" fill="none"/>
<path d="M625 801 L623.3 809 L626.7 809 Z M625 893 L623.3 885 L626.7 885 Z" fill="#777"/>
<text transform="translate(623,862.8) rotate(-90)" font-size="13.6" font-weight="bold" fill="#111" class="sf"><tspan textLength="18.5" lengthAdjust="spacingAndGlyphs">290</tspan><tspan font-size="10" textLength="12.7" lengthAdjust="spacingAndGlyphs">mm</tspan></text>
<path d="M217.7 894 L217.7 913.5 M604 894.7 L604 913.3 M217.7 910.8 L604 910.8" stroke="#777" stroke-width="0.9" fill="none"/>
<path d="M218.2 910.8 L226 909.1 L226 912.5 Z M603.5 910.8 L595.7 909.1 L595.7 912.5 Z" fill="#777"/>
<text x="398.5" y="909" font-size="13.6" font-weight="bold" fill="#111" class="sf" textLength="24.3" lengthAdjust="spacingAndGlyphs">1200</text>
</svg></body></html>
